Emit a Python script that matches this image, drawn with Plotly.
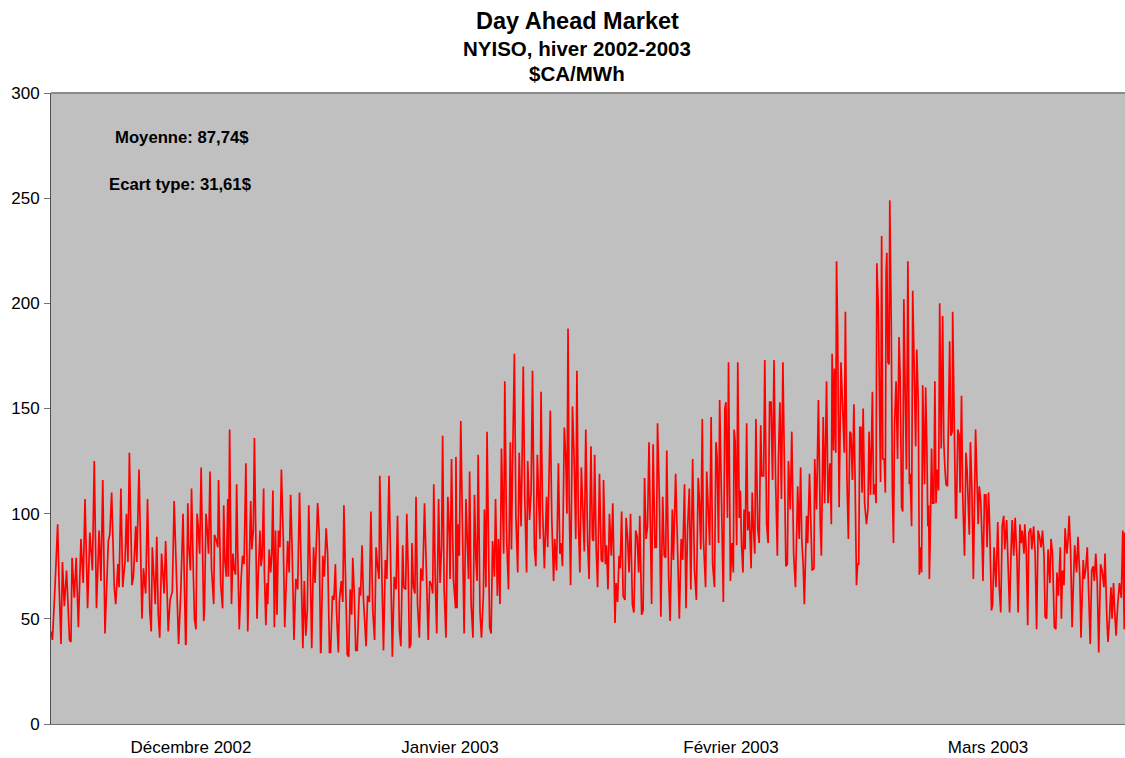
import pandas as pd
import plotly.graph_objects as go

# Hourly-ish Day Ahead prices ($CA/MWh), hours counted from 2002-12-01 00:00
hours_dec_a = [0,4,11,18,22,27,31,36,42,50,54,57,63,68,74,81,87,92,99,105,112,117,123,130,135,140,146,150,155,159,
               164,171,175,181,184,189,194,200,204,208,212,219,223,229,232,238,243,246,250,256,261,267,271,274,282,286,290,294,299,306,
               310,317,322,328,333,339,345,351,357,364]
price_dec_a = [44,40,66,95,66,38,77,56,73,40,39,79,60,79,46,88,67,107,55,91,73,125,55,92,68,116,43,63,87,90,
               110,65,57,76,65,112,65,77,100,77,129,66,70,94,77,121,77,50,74,62,107,54,44,84,57,89,52,41,81,62,
               87,44,59,63,106,71,38,63,100,38]

hours_dec_b = [365,370,372,377,380,385,388,392,395,398,402,406,409,413,415,419,423,426,430,434,440,442,446,451,453,459,464,467,470,474,
               478,480,483,488,492,495,499,502,505,509,514,518,522,527,532,536,540,543,547,550,554,557,560,565,568,571,575,577,581,584,
               586,590,594,597,600,604,607,611,615,619,623,628,632,637,640,644,648,652,657,662,667,672,676,681,685,689,693,697,702,705,
               710,714,721,725,729]
price_dec_b = [38,105,86,73,112,70,50,45,100,94,81,122,91,49,54,100,91,81,120,74,57,90,88,84,116,66,55,104,78,70,
               107,70,140,57,81,74,71,114,81,45,69,80,76,124,44,69,106,83,92,136,81,50,69,92,75,80,112,72,47,67,
               57,83,72,81,111,46,92,52,92,84,121,88,46,80,87,72,109,83,40,69,64,110,83,36,68,42,54,104,65,36,
               84,67,105,91,34]

hours_jan_a = [730,735,739,744,748,753,756,761,765,769,772,777,780,785,789,792,796,801,805,809,813,816,820,824,828,834,837,841,845,852,
               856,861,865,870,875,879,883,887,889,894,899,904,908,914,918,923,928,933,937,942,946,951,954,959,962,966,969,973,976,980,
               984,987,991,996,1000,1005,1010,1015,1020,1024,1029,1032,1035,1039,1043,1048,1052,1056,1059,1063,1068,1073,1077,1079,1083,1088,1094]
price_jan_a = [34,80,70,93,81,34,34,61,59,76,54,34,59,68,58,104,64,33,32,64,52,79,62,35,35,65,61,85,59,37,
               61,58,101,54,40,84,75,69,118,75,35,78,69,118,69,32,70,64,99,45,37,85,65,64,100,72,36,38,86,65,
               62,108,57,41,74,68,105,67,40,68,66,62,114,69,43,107,67,84,137,64,41,108,91,69,126,69,55]

hours_jan_b = [1095,1098,1100,1104,1108,1111,1117,1122,1126,1129,1132,1136,1141,1145,1149,1152,1155,1160,1164,1169,
               1172,1176,1179,1183,1186,1190,1194,1199,1202,1207,1210,1214,1218,1224,1227,1232,1237,1242,1245,1248,
               1253,1257,1262,1266,1271,1273,1277,1281,1286,1289,1294,1298,1302,1307,1311,1315,1318,1322,1325,1329,
               1334,1340,1343,1350,1354,1359,1362,1367,1372,1376,1379,1383,1388,1392,1395,1398,1401,1405,1410,1414,
               1419,1422,1426,1430,1434,1439,1442,1446,1451,1455,1459]
price_jan_b = [127,55,95,80,144,107,43,107,78,69,120,57,41,109,78,68,128,53,41,61,
               102,65,139,91,46,43,87,70,107,61,88,57,131,81,163,88,64,134,83,123,
               176,99,72,129,94,116,170,107,72,125,97,110,168,84,75,128,108,88,158,103,
               74,108,84,149,98,68,88,73,124,81,86,75,141,126,100,188,107,66,151,129,
               88,168,97,72,122,94,82,140,86,69,131]

hours_feb_a = [1460,1464,1467,1470,1474,1478,1483,1488,1492,1494,1499,1502,1506,1510,1515,1519,1522,1525,1528,1532,
               1536,1539,1543,1547,1552,1555,1559,1563,1567,1572,1576,1581,1585,1589,1592,1597,1601,1605,1609,1613,
               1617,1620,1624,1628,1633,1637,1640,1645,1649,1654,1658,1662,1665,1670,1674,1680,1683,1689,1694,1699,
               1704,1708,1713,1717,1721,1726,1730,1735,1740,1745,1750,1753,1757,1761,1764,1770,1773,1777,1781,1785,
               1789,1794,1798,1801,1805,1808,1814,1818,1822]
price_feb_a = [132,88,87,128,84,65,119,78,77,116,76,85,64,100,80,105,76,48,67,58,
               80,74,101,61,59,98,89,72,100,57,53,92,89,72,99,52,54,117,88,94,
               134,92,57,133,84,84,143,107,51,108,80,79,130,70,49,102,78,119,81,50,
               88,78,114,55,92,112,64,126,73,59,117,107,83,145,88,65,120,102,85,146,
               76,65,134,127,86,154,92,58,150]

hours_feb_b = [1825,1829,1832,1837,1841,1845,1847,1850,1854,1857,1861,1864,1867,1871,1874,1877,1881,1884,1888,1893,
               1896,1899,1903,1906,1911,1915,1919,1922,1927,1930,1935,1939,1943,1947,1951,1955,1959,1964,1967,1971,
               1975,1979,1983,1987,1991,1994,1999,2003,2008,2013,2019,2023,2027,2030,2034,2037,2043,2046,2051,2055,
               2058,2063,2065,2070,2075,2080,2083,2088,2092,2097,2101,2106,2110,2112,2116,2118,2122,2124,2127,2131,
               2136,2145,2148,2152,2156,2160,2163,2167,2171,2174,2178,2181,2184,2187]
price_feb_b = [153,98,172,68,86,72,140,134,85,172,98,111,86,72,102,83,143,92,101,74,
               110,94,81,145,93,86,142,118,118,173,95,86,153,153,116,173,118,80,127,153,
               107,172,127,75,76,125,102,139,81,65,113,88,122,88,75,57,99,86,119,91,
               73,74,126,102,154,95,80,146,105,163,105,124,95,176,130,169,129,220,187,103,
               172,129,196,118,88,139,138,116,152,118,66,76,76,141]

hours_mar_a = [2190,2193,2196,2200,2203,2205,2209,2212,2216,2221,2224,2228,2231,2233,2237,2240,2243,2246,2249,2253,
               2256,2258,2260,2263,2266,2268,2272,2275,2278,2281,2285,2289,2293,2296,2300,2303,2306,2310,2313,2317,
               2321,2323,2327,2330,2334,2338,2341,2345,2348,2351,2354,2357,2362,2365,2368,2371,2373,2375,2377,2381,
               2384,2387,2390,2393,2396,2400,2403,2407,2411,2414,2417,2420,2424,2428,2430,2433,2437,2438,2442,2446,
               2448,2452,2456,2458,2462,2465,2470,2474,2477,2483,2486,2490,2494,2500,2503,2507,2510,2514,2518,2520,
               2524,2528,2531,2535,2538,2543,2546,2550,2554]
price_mar_a = [141,110,150,105,99,95,102,139,109,158,109,114,105,219,198,143,115,232,126,126,
               110,214,224,172,171,249,191,111,86,143,163,126,184,165,103,101,202,153,121,220,
               114,119,94,206,160,132,178,153,71,84,72,161,114,160,134,94,104,69,85,131,
               105,105,163,105,121,111,200,131,194,134,122,114,113,180,182,137,139,196,140,98,
               98,140,137,110,156,110,80,129,121,90,134,112,69,140,121,95,113,106,84,68,
               109,109,84,110,95,54,57,84,69]

hours_mar_b = [2555,2560,2564,2568,2572,2576,2579,2584,2587,2592,2596,2599,2603,2607,2612,2615,2620,2623,2626,2631,
               2633,2637,2641,2644,2649,2652,2657,2661,2665,2669,2673,2677,2681,2685,2688,2692,2696,2701,2704,2708,
               2713,2717,2720,2724,2729,2732,2735,2739,2742,2747,2750,2753,2757,2761,2765,2768,2773,2777,2782,2785,
               2791,2794,2798,2802,2805,2810,2814,2818,2821,2825,2829,2833,2838,2842,2847,2850,2855,2858,2862,2866,
               2869,2873,2876,2880,2884,2889,2894,2898,2902,2903]
price_mar_b = [65,96,65,53,94,99,83,97,78,53,83,97,80,98,78,53,95,86,92,81,
               95,83,47,91,93,83,94,81,45,92,89,84,92,80,51,50,83,67,88,81,
               46,45,72,61,84,50,73,66,93,81,88,99,82,46,70,85,72,89,69,41,
               78,69,74,84,67,38,73,75,68,81,67,34,76,73,65,81,50,39,50,65,
               50,67,54,42,56,67,60,92,45,91]

month_labels = ["Décembre 2002", "Janvier 2003", "Février 2003", "Mars 2003"]
month_label_dates = ["2002-12-16 18:30", "2003-01-14 22:45", "2003-02-15 14:40", "2003-03-16 13:30"]

title_lines = ["Day Ahead Market", "NYISO, hiver 2002-2003", "$CA/MWh"]
stats_text = ["Moyenne: 87,74$", "Ecart type: 31,61$"]

hours = (hours_dec_a + hours_dec_b + hours_jan_a + hours_jan_b +
         hours_feb_a + hours_feb_b + hours_mar_a + hours_mar_b)
prices = (price_dec_a + price_dec_b + price_jan_a + price_jan_b +
          price_feb_a + price_feb_b + price_mar_a + price_mar_b)

base = pd.Timestamp("2002-12-01 00:00")
times = [base + pd.Timedelta(hours=h) for h in hours]

FONT = "Arial, 'Liberation Sans', sans-serif"

fig = go.Figure()
fig.add_trace(go.Scatter(x=times, y=prices, mode="lines",
                         line=dict(color="#FF0000", width=1.7), hoverinfo="x+y"))

fig.update_layout(
    width=1125, height=758,
    margin=dict(l=51, r=0, t=93, b=34),
    paper_bgcolor="white", plot_bgcolor="#C0C0C0",
    showlegend=False,
    font=dict(family=FONT, color="black", size=17),
    xaxis=dict(type="date", range=["2002-12-01", "2003-04-01"],
               tickvals=month_label_dates, ticktext=month_labels,
               showgrid=False, zeroline=False, ticks="",
               ticklabelstandoff=8,
               showline=True, linecolor="#707070", linewidth=1,
               tickfont=dict(size=17, family=FONT)),
    yaxis=dict(range=[0, 300], dtick=50, showgrid=False, zeroline=False,
               ticks="outside", ticklen=6, tickcolor="#707070",
               ticklabelstandoff=1,
               showline=True, linecolor="#505050", linewidth=1,
               tickfont=dict(size=17, family=FONT)),
)

fig.add_shape(type="line", xref="paper", yref="paper", x0=0, x1=1, y0=1, y1=1,
              line=dict(color="#8A8A8A", width=2))

title_y = [1.1144, 1.0708, 1.0312]
title_sizes = [23.5, 20.5, 20.5]
for txt, yy, sz in zip(title_lines, title_y, title_sizes):
    fig.add_annotation(text="<b>%s</b>" % txt, xref="paper", yref="paper",
                       x=0.4898, y=yy, showarrow=False, xanchor="center", yanchor="middle",
                       font=dict(size=sz, family=FONT, color="black"))

for txt, xx, yy in zip(stats_text, [0.122, 0.121], [0.9295, 0.8542]):
    fig.add_annotation(text="<b>%s</b>" % txt, xref="paper", yref="paper",
                       x=xx, y=yy, showarrow=False, xanchor="center", yanchor="middle",
                       font=dict(size=16.7, family=FONT, color="black"))

fig.write_html("out.html", config={"displayModeBar": False},
               post_script="document.body.style.margin='0px';")
